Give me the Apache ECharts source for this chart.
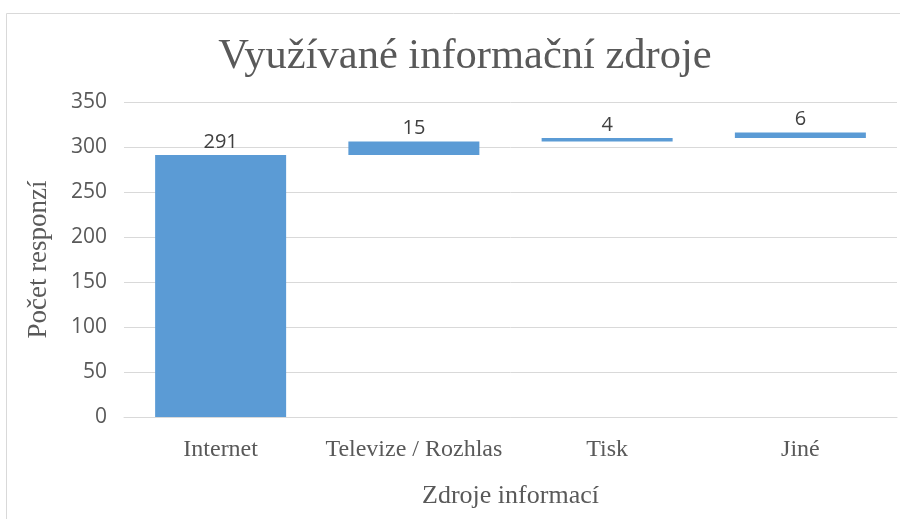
<!DOCTYPE html>
<html>
<head>
<meta charset="utf-8">
<style>
html, body { margin: 0; padding: 0; background: #fff; }
#chart { width: 900px; height: 519px; }
</style>
<script src="https://cdn.jsdelivr.net/npm/echarts@6/dist/echarts.min.js"></script>
</head>
<body>
<div id="chart"></div>
<script>
// data
var categories = ['Internet', 'Televize / Rozhlas', 'Tisk', 'Jiné'];
var values = [291, 15, 4, 6];
var yTicks = { min: 0, max: 350, step: 50 };

// waterfall: invisible base = running total before each step
var base = [];
var sum = 0;
for (var i = 0; i < values.length; i++) {
    base.push(sum);
    sum += values[i];
}

var serif = '"Liberation Serif", "DejaVu Serif", serif';
var sans = '"Open Sans", "Liberation Sans", sans-serif';

var myChart = echarts.init(document.getElementById('chart'));
myChart.setOption({
    animation: false,
    title: {
        text: 'Využívané informační zdroje',
        left: 460,
        top: 30,
        textAlign: 'center',
        textStyle: { fontFamily: serif, fontWeight: 'normal', fontSize: 42.5, color: '#595959' }
    },
    graphic: [{
        type: 'rect',
        shape: { x: 6.5, y: 13.5, width: 900, height: 520 },
        style: { fill: 'none', stroke: '#d9d9d9', lineWidth: 1 },
        silent: true
    }],
    grid: { left: 124, right: 3, top: 102, bottom: 102 },
    xAxis: {
        type: 'category',
        data: categories,
        name: 'Zdroje informací',
        nameLocation: 'middle',
        nameGap: 66,
        nameTextStyle: { fontFamily: serif, fontSize: 26, color: '#595959' },
        axisLine: { lineStyle: { color: '#d9d9d9' } },
        axisTick: { show: false },
        axisLabel: { interval: 0, margin: 21, fontFamily: serif, fontSize: 24, color: '#595959' }
    },
    yAxis: {
        type: 'value',
        min: yTicks.min,
        max: yTicks.max,
        interval: yTicks.step,
        name: 'Počet responzí',
        nameLocation: 'middle',
        nameGap: 72,
        nameTextStyle: { fontFamily: serif, fontSize: 27, color: '#595959' },
        axisLine: { show: false },
        axisTick: { show: false },
        axisLabel: { margin: 17, fontFamily: sans, fontSize: 21, color: '#595959' },
        splitLine: { lineStyle: { color: '#d9d9d9' } }
    },
    series: [{
        name: 'base',
        type: 'bar',
        stack: 'w',
        data: base,
        barWidth: 131,
        itemStyle: { color: 'transparent' },
        silent: true
    }, {
        name: 'Počet',
        type: 'bar',
        stack: 'w',
        data: values,
        barWidth: 131,
        itemStyle: { color: '#5b9bd5' },
        label: {
            show: true,
            position: 'top',
            distance: 3,
            fontFamily: sans,
            fontSize: 20,
            color: '#404040'
        }
    }]
});
</script>
</body>
</html>
